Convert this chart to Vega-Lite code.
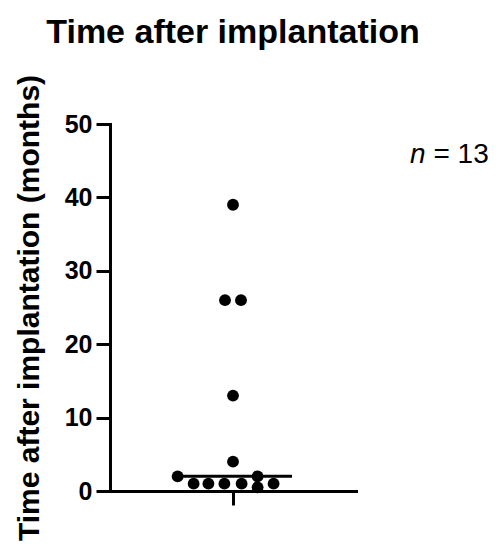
{
  "$schema": "https://vega.github.io/schema/vega-lite/v6.json",
  "width": 246,
  "height": 367,
  "autosize": "none",
  "padding": {"left": 110, "top": 124, "right": 145, "bottom": 59},
  "background": "white",
  "config": {
    "font": "Liberation Sans",
    "view": {"stroke": null},
    "axis": {"domainColor": "black", "tickColor": "black", "domainWidth": 3, "tickWidth": 3, "labelColor": "black", "titleColor": "black", "grid": false, "domainCap": "square"}
  },
  "title": {"text": "Time after implantation", "fontSize": 34, "fontWeight": "bold", "color": "black", "anchor": "middle", "offset": 24},
  "data": {
    "values": [
      {"months": 39, "spread": 0},
      {"months": 26, "spread": -0.065},
      {"months": 26, "spread": 0.065},
      {"months": 13, "spread": 0},
      {"months": 4, "spread": 0},
      {"months": 2, "spread": -0.45},
      {"months": 2, "spread": 0.2},
      {"months": 1, "spread": -0.32},
      {"months": 1, "spread": -0.2},
      {"months": 1, "spread": -0.07},
      {"months": 1, "spread": 0.07},
      {"months": 0.5, "spread": 0.2},
      {"months": 1, "spread": 0.33}
    ]
  },
  "layer": [
    {
      "mark": {"type": "circle", "size": 140, "color": "black", "opacity": 1},
      "encoding": {
        "x": {"field": "spread", "type": "quantitative", "scale": {"domain": [-1, 1], "nice": false},
              "axis": {"values": [0], "labels": false, "title": null, "tickSize": 14}},
        "y": {"field": "months", "type": "quantitative", "scale": {"domain": [0, 50], "nice": false},
              "axis": {"values": [0, 10, 20, 30, 40, 50], "tickSize": 14, "labelFontSize": 25, "labelFontWeight": "bold", "labelPadding": 4,
                       "title": "Time after implantation (months)", "titleFontSize": 30, "titleFontWeight": "bold", "titlePadding": 20}}
      }
    },
    {
      "transform": [{"aggregate": [{"op": "median", "field": "months", "as": "median"}]}],
      "mark": {"type": "rule", "color": "black", "strokeWidth": 3},
      "encoding": {
        "x": {"datum": -0.46, "type": "quantitative"},
        "x2": {"datum": 0.48},
        "y": {"field": "median", "type": "quantitative"}
      }
    },
    {
      "data": {"values": [{"label": "n", "lx": 1.44, "ly": 44.7}]},
      "mark": {"type": "text", "fontSize": 28, "fontStyle": "italic", "align": "left", "baseline": "alphabetic", "color": "black"},
      "encoding": {
        "x": {"field": "lx", "type": "quantitative"},
        "y": {"field": "ly", "type": "quantitative"},
        "text": {"field": "label"}
      }
    },
    {
      "data": {"values": [{"label": "= 13", "lx": 1.63, "ly": 44.7}]},
      "mark": {"type": "text", "fontSize": 28, "align": "left", "baseline": "alphabetic", "color": "black"},
      "encoding": {
        "x": {"field": "lx", "type": "quantitative"},
        "y": {"field": "ly", "type": "quantitative"},
        "text": {"field": "label"}
      }
    }
  ]
}
